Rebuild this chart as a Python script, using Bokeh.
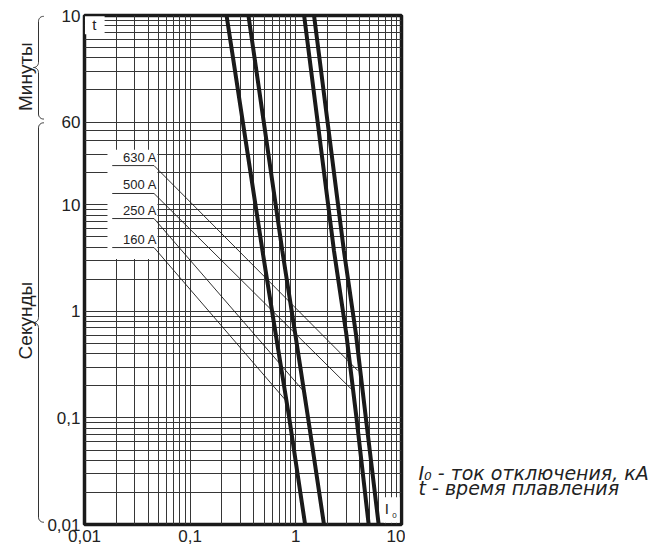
import numpy as np
from bokeh.plotting import figure
from bokeh.layouts import row
from bokeh.models import Range1d, FixedTicker
from bokeh.core.properties import value
from bokeh.embed import file_html
from bokeh.resources import INLINE

# ---------------- data ----------------
ratings = ["160 A", "250 A", "500 A", "630 A"]

# melting time t (s) for the thick curves
curve_t = [600, 3.73, 0.62, 0.10, 0.01]
i_160 = [0.221, 0.483, 0.644, 0.866, 1.224]
i_250 = [0.356, 0.744, 0.986, 1.306, 1.847]
i_500 = [1.198, 2.294, 3.00, 3.75, 4.89]
i_630 = [1.487, 2.848, 3.70, 4.60, 6.08]

# leader lines from labels to curves
lead_i_start = [0.0183, 0.0183, 0.0183, 0.0183]
lead_i_knee = [0.0455, 0.0455, 0.0455, 0.0455]
lead_t_label = [3.98, 7.45, 12.8, 23.4]
lead_i_end = [0.806, 1.172, 3.315, 3.858]
lead_t_end = [0.1455, 0.1807, 0.1887, 0.2786]

x_tick_vals = [0.01, 0.1, 1, 10]
x_tick_labels = ["0,01", "0,1", "1", "10"]
y_tick_vals = [0.01, 0.1, 1, 10, 60, 600]
y_tick_labels = ["0,01", "0,1", "1", "10", "60", "10"]

x_grid_vals = [m * 10.0 ** e for e in (-2, -1, 0) for m in range(1, 10)] + [10]
y_grid_vals = ([m * 10.0 ** e for e in (-2, -1, 0) for m in range(1, 10)]
               + [10, 20, 30, 40, 50, 60]
               + [120, 180, 240, 300, 360, 420, 480, 540, 600])

section_names = ["Минуты", "Секунды"]
section_top = [590, 59]
section_bottom = [64, 0.0105]
section_tip = [195, 0.786]
section_label_t = [160, 0.82]

legend_lines = ["I₀ - ток отключения, кА", "t - время плавления"]
legend_t = [0.0305, 0.0222]

FONT = "Liberation Sans"
INK = "#1a1a1a"
TXT = "#222222"
H = 549
TOP, BOT = 15, 25
LEFT_W, AXIS_W = 44, 38

yr = Range1d(0.01, 600)


def side_fig(w):
    f = figure(width=w, height=H, x_range=Range1d(0, w), y_range=yr,
               y_axis_type="log", x_axis_location=None, y_axis_location=None,
               output_backend="svg", toolbar_location=None,
               min_border_left=0, min_border_right=0,
               min_border_top=TOP, min_border_bottom=BOT)
    f.outline_line_color = None
    f.background_fill_color = "white"
    f.border_fill_color = "white"
    f.grid.grid_line_color = None
    return f


# ---------------- main chart ----------------
p = figure(width=AXIS_W + 319 + 4, height=H, x_axis_type="log", y_axis_type="log",
           x_range=Range1d(0.01, 10), y_range=yr,
           output_backend="svg", toolbar_location=None,
           min_border_left=AXIS_W, min_border_right=4,
           min_border_top=TOP, min_border_bottom=BOT)
p.background_fill_color = "white"
p.border_fill_color = "white"
p.outline_line_color = INK
p.outline_line_width = 3.5

for ax in (p.xaxis, p.yaxis):
    ax.axis_line_color = None
    ax.major_tick_line_color = None
    ax.minor_tick_line_color = None
    ax.major_tick_out = 0
    ax.minor_tick_out = 0
    ax.major_tick_in = 0
    ax.minor_tick_in = 0
    ax.major_label_text_font = FONT
    ax.major_label_text_font_size = "17px"
    ax.major_label_text_color = TXT

p.xaxis.ticker = FixedTicker(ticks=x_tick_vals, minor_ticks=[])
p.xaxis.major_label_overrides = dict(zip(x_tick_vals, x_tick_labels))
p.xaxis.major_label_standoff = 5
p.yaxis.ticker = FixedTicker(ticks=y_tick_vals, minor_ticks=[])
p.yaxis.major_label_overrides = dict(zip(y_tick_vals, y_tick_labels))
p.yaxis.major_label_standoff = 4

p.xgrid.ticker = FixedTicker(ticks=x_grid_vals, minor_ticks=[])
p.ygrid.ticker = FixedTicker(ticks=y_grid_vals, minor_ticks=[])
for g in (p.xgrid, p.ygrid):
    g.grid_line_color = "#363636"
    g.grid_line_width = 1

# white boxes behind in-plot texts
p.quad(left=[0.0165, 0.0101, 6.8], right=[0.049, 0.0155, 9.6],
       bottom=[3.1, 400, 0.0104], top=[33, 590, 0.018],
       fill_color="white", line_color=None)

# leader lines
p.multi_line(xs=[[a, b, c] for a, b, c in zip(lead_i_start, lead_i_knee, lead_i_end)],
             ys=[[t, t, e] for t, e in zip(lead_t_label, lead_t_end)],
             line_color=INK, line_width=0.9)

for ii in (i_160, i_250, i_500, i_630):
    p.line(ii, curve_t, line_color=INK, line_width=4)

p.text(x=[0.0486] * 4, y=lead_t_label, text=ratings, text_align="right",
       text_baseline="bottom", y_offset=-1, text_font=value(FONT),
       text_font_size="13px", text_color=TXT)

p.text(x=[0.0124], y=[494], text=["t"], text_align="center", text_baseline="middle",
       text_font=value(FONT), text_font_size="15px", text_color=TXT)
p.text(x=[7.25], y=[0.01425], text=["I"], text_align="center", text_baseline="middle",
       text_font=value(FONT), text_font_size="15px", text_color=TXT)
p.text(x=[8.6], y=[0.0121], text=["0"], text_align="center", text_baseline="middle",
       text_font=value(FONT), text_font_size="8px", text_color=TXT)

# ---------------- left: braces + section names ----------------
left = side_fig(LEFT_W)


def brace(t_top, t_bot, t_tip, x_end_top, x_end_bot):
    xs_ = 38.0
    rx, ry = 5.0, 5.0 / 106.5
    lt, lb, lm = np.log10(t_top), np.log10(t_bot), np.log10(t_tip)
    X, Y = [x_end_top], [lt]
    a = np.linspace(np.pi / 2, np.pi, 9)
    X += list(xs_ + rx + rx * np.cos(a)); Y += list(lt - ry + ry * np.sin(a))
    a = np.linspace(0, -np.pi / 2, 9)
    X += list(xs_ - rx + rx * np.cos(a)); Y += list(lm + ry + ry * np.sin(a))
    a = np.linspace(np.pi / 2, 0, 9)
    X += list(xs_ - rx + rx * np.cos(a)); Y += list(lm - ry + ry * np.sin(a))
    a = np.linspace(np.pi, 1.5 * np.pi, 9)
    X += list(xs_ + rx + rx * np.cos(a)); Y += list(lb + ry + ry * np.sin(a))
    X.append(x_end_bot); Y.append(lb)
    return X, list(10 ** np.array(Y))


for k, (tt, tb, tm) in enumerate(zip(section_top, section_bottom, section_tip)):
    bx, by = brace(tt, tb, tm, 47, 47 if k == 0 else 45)
    left.line(bx, by, line_color="#333333", line_width=1)

left.text(x=[25, 25], y=section_label_t, text=section_names, angle=np.pi / 2,
          text_align="center", text_baseline="middle", text_font=value(FONT),
          text_font_size="19px", text_color=TXT)

# ---------------- right: legend text ----------------
right = side_fig(658 - LEFT_W - (AXIS_W + 319 + 4))
right.text(x=[418 - (LEFT_W + AXIS_W + 319 + 4)] * 2, y=legend_t, text=legend_lines,
           text_align="left", text_baseline="alphabetic",
           text_font=value("DejaVu Sans"), text_font_style="italic",
           text_font_size="19px", text_color=TXT)

layout = row(left, p, right, spacing=0)
open("out.html", "w").write(file_html(layout, INLINE))
